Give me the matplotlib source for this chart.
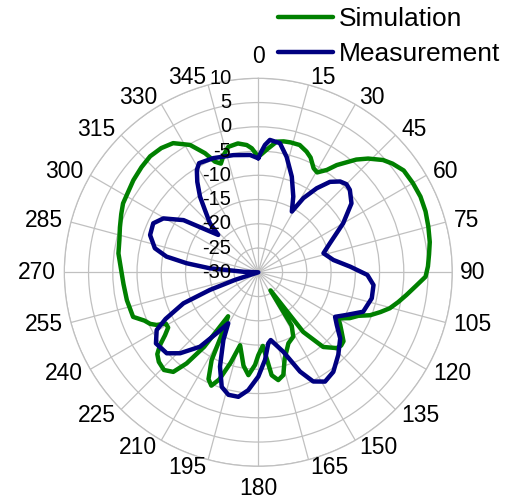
import numpy as np
import matplotlib
matplotlib.use("Agg")
import matplotlib.pyplot as plt
from matplotlib.transforms import offset_copy

plt.rcParams['font.family'] = ['Liberation Sans', 'DejaVu Sans']

# ---- data (angle in degrees, gain in dB) ----
sim_deg = [0, 4.5, 8, 11, 14, 18, 21.8, 24.5, 28, 30.5, 33.8, 36.2, 41, 44, 48, 51, 55, 60,
           65, 70, 75, 80, 84, 88, 91.5, 95, 98.7, 102, 105.3, 108, 111, 113.5, 116.6, 120,
           122.5, 125.5, 129, 131.5, 134, 139, 143, 146, 148, 151.5, 157, 163, 166.3, 169.5,
           172.6, 174, 176.5, 180, 182, 185.5, 189, 194, 197, 200, 202.5, 205, 208, 211,
           214.5, 216, 218.2, 220.5, 224, 228, 231, 233.5, 236, 238.5, 241, 242.6, 244.5,
           247, 250.4, 258, 265, 270, 277.7, 283, 288, 293, 297, 306.4, 312, 317, 322,
           326.6, 331.8, 335.9, 338.6, 341, 343.5, 346.6, 351, 354.8, 357, 360]
sim_db = [-6.2, -4.4, -2.8, -2.5, -2.4, -2.4, -3.2, -4.0, -5.7, -6.1, -4.6, -2.6, 0.8, 2.6,
          4.6, 5.6, 6.6, 6.8, 6.9, 6.7, 6.3, 5.9, 5.4, 5.0, 4.5, 2.6, 0.9, -0.5, -1.9, -3.5,
          -5.3, -7.5, -8.9, -11.0, -10.0, -8.9, -7.4, -7.2, -7.5, -9.6, -14.6, -25.5, -17.0,
          -14.9, -14.1, -11.4, -8.2, -7.4, -8.6, -11.4, -14.8, -12.9, -10.9, -8.7, -10.5,
          -14.5, -10.5, -6.5, -4.7, -5.7, -9.5, -16.0, -19.0, -11.0, -6.1, -3.0, -2.0, -2.4,
          -3.2, -4.8, -6.8, -8.2, -8.2, -6.4, -5.3, -4.5, -2.6, -2.3, -2.1, -1.8, -0.9, -0.6,
          0.0, 0.7, 1.3, 2.0, 2.4, 2.7, 2.5, 1.9, -0.2, -3.1, -5.5, -6.3, -4.8, -3.4, -3.1,
          -3.65, -4.4, -6.2]

meas_deg = [0, 1, 3, 5, 9.5, 13.8, 19.3, 24.8, 28.9, 31.3, 34.8, 38.4, 42, 45, 48, 53.5, 60,
            68, 73.7, 80.7, 86.5, 91.4, 96.3, 102.9, 110.6, 115.8, 120.1, 123.9, 128.9, 135.9,
            143, 148.6, 153.3, 157.2, 162.5, 169.6, 172, 175.6, 180, 184.9, 189.1, 193.7,
            197.7, 202.1, 207.3, 210.5, 214.3, 218.1, 224, 228.5, 235.2, 240.4, 243.3, 247.5,
            250, 252, 262, 272, 273.7, 274.7, 277.2, 279.7, 283.1, 289, 295, 299.6, 304.9,
            313, 315.4, 319.4, 322.4, 326, 329, 331.5, 338.5, 348, 356, 360]
meas_db = [-6.5, -5.5, -3.7, -2.6, -3.0, -5.5, -9.1, -12.8, -15.7, -12.1, -8.9, -6.2, -4.8,
           -4.3, -4.6, -6.1, -9.8, -14.1, -16.0, -14.3, -11.0, -7.5, -6.1, -6.0, -6.9, -9.8,
           -11.7, -10.5, -8.3, -6.3, -4.3, -3.6, -4.8, -7.8, -12.8, -15.8, -15.2, -11.9, -8.5,
           -5.6, -4.0, -4.0, -5.2, -9.0, -14.3, -17.8, -14.8, -10.5, -6.8, -4.8, -4.3, -5.9,
           -8.6, -13.3, -19.4, -25.0, -30.0, -27.0, -24.8, -20.0, -15.1, -10.8, -8.1, -6.4,
           -6.1, -7.5, -11.2, -18.7, -15.8, -13.1, -10.3, -7.5, -5.4, -4.4, -4.7, -5.3, -5.75,
           -6.5]

angle_ticks = list(range(0, 360, 15))
radial_ticks = list(range(-30, 11, 5))

assert len(sim_deg) == len(sim_db)
assert len(meas_deg) == len(meas_db)

# ---- figure ----
W, H, DPI = 509, 504, 100
fig = plt.figure(figsize=(W / DPI, H / DPI), dpi=DPI)
cx, cy, R = 258.3, 272.3, 194.0
ax = fig.add_axes([(cx - R) / W, (H - cy - R) / H, 2 * R / W, 2 * R / H], projection='polar')
ax.set_theta_zero_location('N')
ax.set_theta_direction(-1)
ax.set_ylim(-30, 10)

grid_c = '#c0c0c0'
ax.set_xticks(np.radians(angle_ticks))
ax.set_xticklabels([])
ax.set_yticks(radial_ticks[1:])
ax.set_yticklabels([])
ax.grid(True, color=grid_c, lw=0.9)
ax.spines['polar'].set_color(grid_c)
ax.spines['polar'].set_linewidth(0.9)
ax.set_facecolor('white')

l1, = ax.plot(np.radians(sim_deg), sim_db, color='#008000', lw=3.2, label='Simulation',
              solid_joinstyle='round', solid_capstyle='round', zorder=3)
l2, = ax.plot(np.radians(meas_deg), meas_db, color='#000080', lw=3.2, label='Measurement',
              solid_joinstyle='round', solid_capstyle='round', zorder=4)

# angular labels: anchored just outside the outer ring, aligned away from the centre
for d in angle_ticks:
    lab = str(d)
    s, c = np.sin(np.radians(d)), np.cos(np.radians(d))
    if d in (0, 180):
        extra, ha = 22, 'center'
    else:
        extra, ha = 8, ('left' if s > 0 else 'right')
    tr = offset_copy(ax.transData, fig=fig, x=extra * s, y=extra * c, units='dots')
    ax.text(np.radians(d), 10, lab, transform=tr, ha=ha, va='center', fontsize=16.5,
            clip_on=False)

# radial labels
for r in radial_ticks:
    tr = offset_copy(ax.transData, fig=fig, x=-27, y=0, units='dots')
    ax.text(0, r, str(r), transform=tr, ha='right', va='center', fontsize=14.5, clip_on=False,
            zorder=5)

leg = fig.legend(handles=[l1, l2], loc='upper left', bbox_to_anchor=(278 / W, 1 - 7 / H),
                 frameon=False, fontsize=19, handlelength=2.1, handletextpad=0.2,
                 labelspacing=0.43, borderpad=0, borderaxespad=0)
for ln in leg.get_lines():
    ln.set_linewidth(3.2)

fig.savefig('out.png', dpi=DPI)
